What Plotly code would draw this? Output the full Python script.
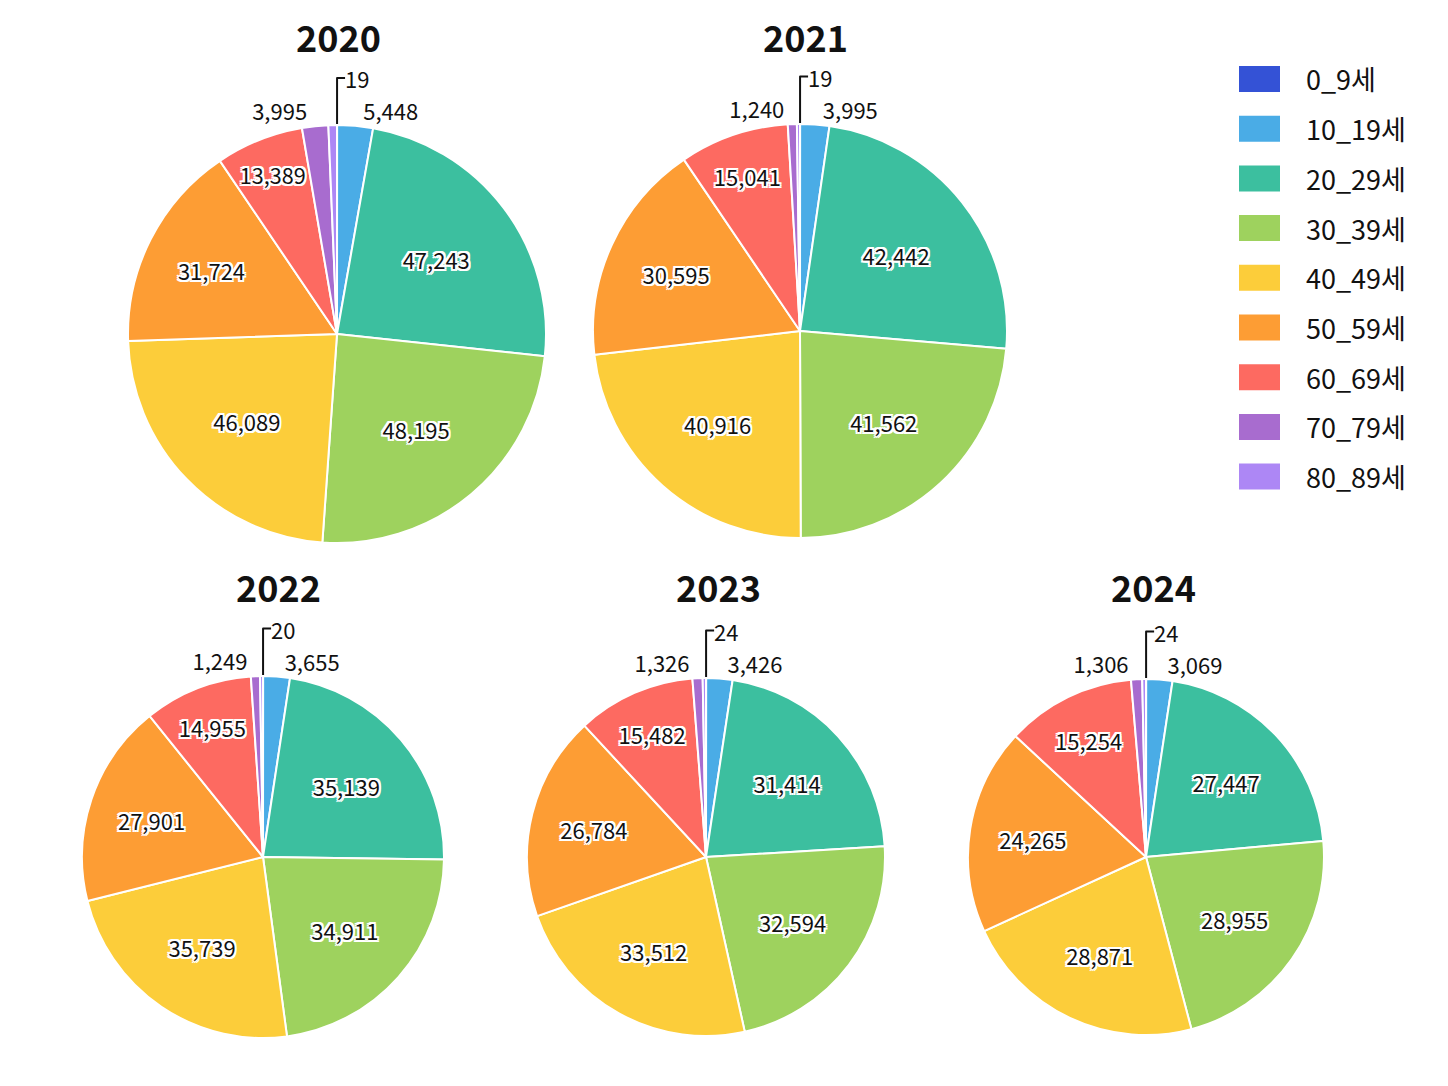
import plotly.graph_objects as go

# ---------------- data ----------------
categories = ["0_9세", "10_19세", "20_29세", "30_39세", "40_49세",
              "50_59세", "60_69세", "70_79세", "80_89세"]
years = ["2020", "2021", "2022", "2023", "2024"]

v2020 = [19, 5448, 47243, 48195, 46089, 31724, 13389, 3995, 1300]
v2021 = [19, 3995, 42442, 41562, 40916, 30595, 15041, 1240, 420]
v2022 = [20, 3655, 35139, 34911, 35739, 27901, 14955, 1249, 400]
v2023 = [24, 3426, 31414, 32594, 33512, 26784, 15482, 1326, 430]
v2024 = [24, 3069, 27447, 28955, 28871, 24265, 15254, 1306, 440]

colors = ["#3452d6", "#4aace6", "#3cbf9f", "#9ed25e", "#fccd3a",
          "#fd9d34", "#fd6a61", "#a86ccf", "#ad87f5"]

# ---------------- layout helpers ----------------
W, H = 1448, 1086
FONT = "Noto Sans CJK KR, Noto Sans, sans-serif"

def px_x(x):
    return x / W

def px_y(y):
    return 1 - y / H

# pie centre (px) and radius (px), title centre (px)
pies = [
    (v2020, (337, 334, 209), (338, 36)),
    (v2021, (800, 331, 207), (805, 36)),
    (v2022, (263, 857, 181), (278, 586)),
    (v2023, (706, 857, 179), (718, 586)),
    (v2024, (1146, 857, 178), (1153, 586)),
]

textpos = ["outside", "outside", "inside", "inside", "inside",
           "inside", "inside", "outside", "none"]

WHITE_OUTLINE = ("-2px -2px 0 #fff, 2px -2px 0 #fff, -2px 2px 0 #fff, 2px 2px 0 #fff, "
                 "0 -2px 0 #fff, 0 2px 0 #fff, -2px 0 0 #fff, 2px 0 0 #fff")

fig = go.Figure()
annotations = []
shapes = []

for year, (vals, (cx, cy, r), (tx, ty)) in zip(years, pies):
    fig.add_trace(go.Pie(
        labels=categories,
        values=vals,
        name=year,
        sort=False,
        direction="clockwise",
        rotation=0,
        marker=dict(colors=colors, line=dict(color="white", width=2)),
        textinfo="value",
        texttemplate="%{value:,}",
        textposition=textpos,
        insidetextorientation="horizontal",
        insidetextfont=dict(family=FONT, size=22, color="#111111",
                            shadow=WHITE_OUTLINE),
        outsidetextfont=dict(family=FONT, size=22, color="#111111"),
        domain=dict(x=[px_x(cx - r), px_x(cx + r)],
                    y=[px_y(cy + r), px_y(cy - r)]),
        showlegend=False,
        automargin=False,
        hoverinfo="label+value+percent",
    ))
    annotations.append(dict(
        text=f"<b>{year}</b>", x=px_x(tx), y=px_y(ty),
        xref="paper", yref="paper", xanchor="center", yanchor="middle",
        showarrow=False, font=dict(family=FONT, size=36, color="#111111"),
    ))

# ---------------- legend (swatches + labels) ----------------
leg_x0, leg_y0, leg_step = 1239, 79, 49.7
sw_w, sw_h = 41, 26
for i, (cat, col) in enumerate(zip(categories, colors)):
    yc = leg_y0 + i * leg_step
    shapes.append(dict(
        type="rect", xref="paper", yref="paper",
        x0=px_x(leg_x0), x1=px_x(leg_x0 + sw_w),
        y0=px_y(yc + sw_h / 2), y1=px_y(yc - sw_h / 2),
        fillcolor=col, line=dict(width=0),
    ))
    annotations.append(dict(
        text=cat, x=px_x(1304), y=px_y(yc),
        xref="paper", yref="paper", xanchor="left", yanchor="middle",
        showarrow=False, font=dict(family=FONT, size=27, color="#111111"),
    ))

fig.update_layout(
    width=W, height=H,
    margin=dict(l=0, r=0, t=0, b=0),
    paper_bgcolor="white", plot_bgcolor="white",
    font=dict(family=FONT, color="#111111"),
    annotations=annotations,
    shapes=shapes,
    showlegend=False,
)

fig.write_html("out.html",
               config={"displayModeBar": False},
               post_script="document.body.style.margin='0';document.body.style.overflow='hidden';")
